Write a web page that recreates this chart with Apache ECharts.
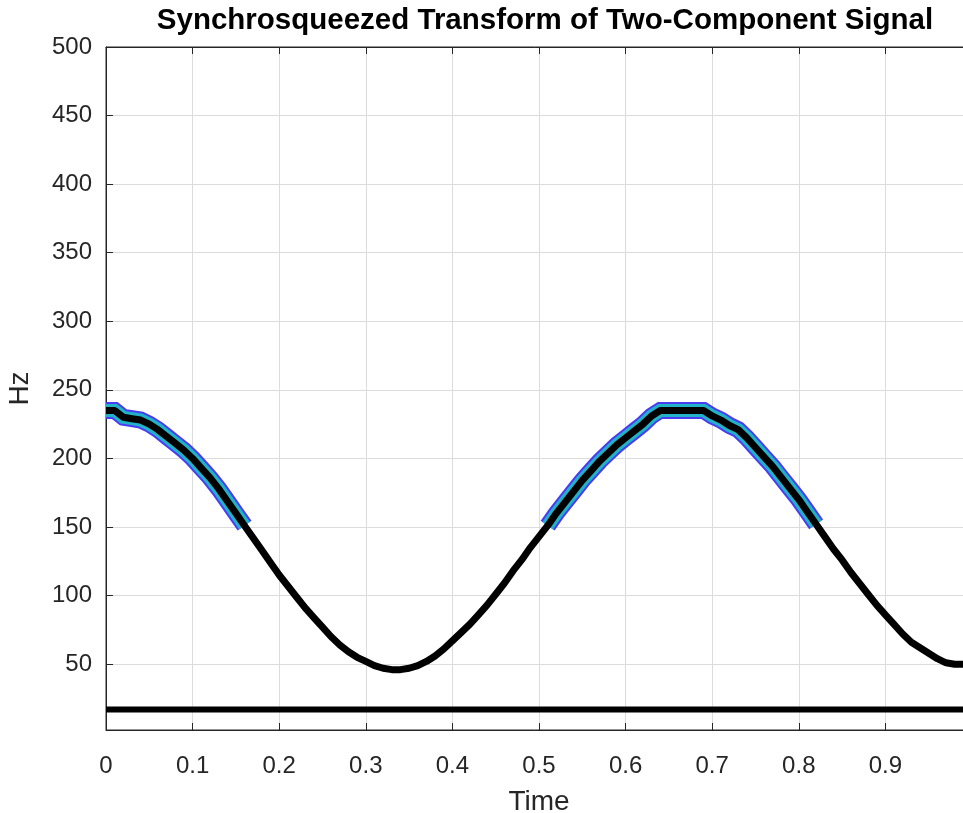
<!DOCTYPE html>
<html>
<head>
<meta charset="utf-8">
<script src="https://cdn.jsdelivr.net/npm/echarts@6/dist/echarts.min.js"></script>
<style>
html,body{margin:0;padding:0;background:#fff;}
#chart{width:963px;height:813px;}
</style>
</head>
<body>
<div id="chart"></div>
<script>
// Time samples (s)
var times = [0.00,0.01,0.02,0.03,0.04,0.05,0.06,0.07,0.08,0.09,
             0.10,0.11,0.12,0.13,0.14,0.15,0.16,0.17,0.18,0.19,
             0.20,0.21,0.22,0.23,0.24,0.25,0.26,0.27,0.28,0.29,
             0.30,0.31,0.32,0.33,0.34,0.35,0.36,0.37,0.38,0.39,
             0.40,0.41,0.42,0.43,0.44,0.45,0.46,0.47,0.48,0.49,
             0.50,0.51,0.52,0.53,0.54,0.55,0.56,0.57,0.58,0.59,
             0.60,0.61,0.62,0.63,0.64,0.65,0.66,0.67,0.68,0.69,
             0.70,0.71,0.72,0.73,0.74,0.75,0.76,0.77,0.78,0.79,
             0.80,0.81,0.82,0.83,0.84,0.85,0.86,0.87,0.88,0.89,
             0.90,0.91,0.92,0.93,0.94,0.95,0.96,0.97,0.98,0.99];
// Ridge frequency of the FM component (Hz)
var fmFreq = [235,235,230,229,228,225,221,216,211,206,
              200,193,186,178,169,160,151,142,133,124,
              115,107,99,91,84,77,70,64,59,55,
              52,49,47,46,46,47,49,52,56,61,
              67,73,79,86,93,101,109,118,126,135,
              143,151,160,168,176,184,191,198,204,210,
              215,220,225,231,235,235,235,235,235,235,
              231,228,224,221,215,208,201,194,186,178,
              170,161,152,143,134,126,117,109,101,93,
              86,79,72,66,62,58,54,51,50,50];
// Constant low-frequency component
var toneTimes = [0, 1];
var toneFreq = [17, 17];

var mainData = times.map(function(t,i){return [t, fmFreq[i]];});
var fringeData = times.map(function(t,i){return [t, fmFreq[i] > 150 ? fmFreq[i] : null];});
var toneData = toneTimes.map(function(t,i){return [t, toneFreq[i]];});

var axisColor = '#262626';
var fontFam = '"Liberation Sans", Arial, Helvetica, sans-serif';
var chart = echarts.init(document.getElementById('chart'), null, {renderer:'canvas'});
chart.setOption({
  animation:false,
  backgroundColor:'#ffffff',
  title:{
    text:'Synchrosqueezed Transform of Two-Component Signal',
    left:540, top:1, textAlign:'center',
    textStyle:{fontFamily:fontFam, fontSize:29.5, fontWeight:'bold', color:'#000'}
  },
  grid:{left:106, top:47, width:866, height:683, containLabel:false, outerBoundsMode:'none',
        show:true, borderColor:axisColor, borderWidth:1, backgroundColor:'transparent'},
  xAxis:[{
    type:'value', min:0, max:1, interval:0.1,
    name:'Time', nameLocation:'middle', nameGap:58,
    nameTextStyle:{fontFamily:fontFam, fontSize:28, color:axisColor},
    axisLine:{show:true, onZero:false, lineStyle:{color:axisColor, width:1}},
    axisTick:{show:true, inside:true, length:7, lineStyle:{color:axisColor}},
    axisLabel:{fontFamily:fontFam, fontSize:24, color:axisColor, margin:24,
      formatter:function(v){return (Math.round(v*10)/10).toString();}},
    splitLine:{show:true, lineStyle:{color:'#dcdcdc', width:1}}
  },{
    type:'value', min:0, max:1, interval:0.1, position:'top',
    axisLine:{show:true, onZero:false, lineStyle:{color:axisColor, width:1}},
    axisTick:{show:true, inside:true, length:7, lineStyle:{color:axisColor}},
    axisLabel:{show:false}, splitLine:{show:false}
  }],
  yAxis:{
    type:'value', min:2, max:500, splitNumber:10,
    name:'Hz', nameLocation:'middle', nameGap:72, nameRotate:90,
    nameTextStyle:{fontFamily:fontFam, fontSize:28, color:axisColor},
    axisLine:{show:true, onZero:false, lineStyle:{color:axisColor, width:1}},
    axisTick:{show:true, inside:true, length:7, lineStyle:{color:axisColor}},
    axisLabel:{fontFamily:fontFam, fontSize:24, color:axisColor, margin:14, showMinLabel:false},
    splitLine:{show:true, lineStyle:{color:'#dcdcdc', width:1}}
  },
  series:[
    {type:'line', data:fringeData, showSymbol:false, connectNulls:false,
     lineStyle:{color:'#4a3cf0', width:17, join:'miter', cap:'butt'}, z:2},
    {type:'line', data:fringeData, showSymbol:false, connectNulls:false,
     lineStyle:{color:'#22b2c8', width:13, join:'miter', cap:'butt'}, z:3},
    {type:'line', data:mainData, showSymbol:false,
     lineStyle:{color:'#000000', width:7}, z:4},
    {type:'line', data:toneData, showSymbol:false,
     lineStyle:{color:'#000000', width:6}, z:4}
  ]
});
</script>
</body>
</html>
